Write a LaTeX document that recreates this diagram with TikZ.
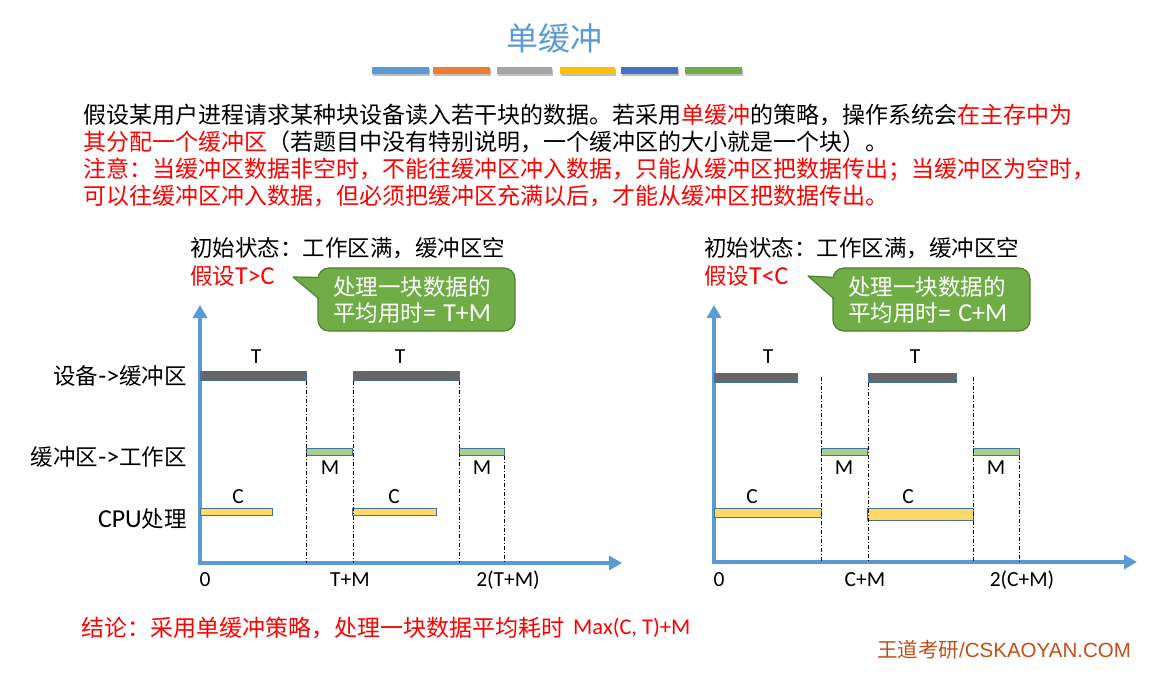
\documentclass[tikz,border=0pt]{standalone}
\usepackage{fontspec}
\setmainfont{Carlito}
\newfontfamily\cjk{Noto Sans CJK SC}
\newfontfamily\ars{Liberation Sans}
\newfontfamily\enb{Carlito}[Scale=1.15]
\usetikzlibrary{arrows.meta}
\definecolor{tblue}{HTML}{5B9BD5}
\definecolor{c1}{HTML}{5B9BD5}
\definecolor{c2}{HTML}{ED7D31}
\definecolor{c3}{HTML}{A5A5A5}
\definecolor{c4}{HTML}{FFC000}
\definecolor{c5}{HTML}{4472C4}
\definecolor{c6}{HTML}{70AD47}
\definecolor{edge}{HTML}{41719C}
\definecolor{tgray}{HTML}{666666}
\definecolor{mgreen}{HTML}{A9D18E}
\definecolor{cyellow}{HTML}{FFD966}
\definecolor{cbfill}{HTML}{70AD47}
\definecolor{cbedge}{HTML}{507E32}
\definecolor{foot}{HTML}{C0501A}
\definecolor{myred}{HTML}{FF0000}
\newcommand{\en}[1]{{\enb #1}}
\tikzset{
  para/.style={font=\cjk\fontsize{23}{27}\selectfont, inner sep=0, anchor=west},
  lbl/.style={font=\cjk\fontsize{22.5}{26}\selectfont, inner sep=0},
  num/.style={font=\rmfamily\fontsize{21.5}{25}\selectfont, inner sep=0},
  bar/.style={draw=edge, line width=0.9, inner sep=0, anchor=north west},
  tbar/.style={bar, fill=tgray},
  mbar/.style={bar, fill=mgreen},
  cbar/.style={bar, fill=cyellow},
  guide/.style={line width=0.9, dash pattern=on 4 off 2 on 1 off 2},
  axis/.style={tblue, line width=4.5, line join=miter,
     {Triangle[width=14,length=13]}-{Triangle[width=14,length=13]}},
  cbox/.style={draw=cbedge, fill=cbfill, line width=1.2, rounded corners=11,
     minimum width=197, minimum height=63, text width=167, inner xsep=15, inner ysep=0,
     align=left, text=white, font=\cjk\fontsize{22.5}{26}\selectfont},
  colbar/.style={minimum width=#1, minimum height=7, inner sep=0, anchor=north west},
}
\begin{document}
\begin{tikzpicture}[x=1pt,y=-1pt]
\useasboundingbox (0,0) rectangle (1167,676);
\fill[white] (0,0) rectangle (1167,676);
% title
\node[font=\cjk\fontsize{32}{36}\selectfont, text=tblue, inner sep=0] (title) at (554,38) {单缓冲};
\foreach \a/\b/\c [count=\i] in {372/429/c1,433/490/c2,497/552/c3,560/615/c4,621/678/c5,685/742/c6}{
  \fill[black!25] (\a+1,69) rectangle (\b+1,76);
  \node[colbar=\b-\a, fill=\c] (cb\i) at (\a,67) {};
}
% paragraph
\node[para] (p1) at (83,115) {假设某用户进程请求某种块设备读入若干块的数据。若采用\textcolor{myred}{单缓冲}的策略，操作系统会\textcolor{myred}{在主存中为}};
\node[para] (p2) at (83,142) {\textcolor{myred}{其分配一个缓冲区}（若题目中没有特别说明，一个缓冲区的大小就是一个块）。};
\node[para, text=myred] (p3) at (83,170) {注意：当缓冲区数据非空时，不能往缓冲区冲入数据，只能从缓冲区把数据传出；当缓冲区为空时，};
\node[para, text=myred] (p4) at (83,196) {可以往缓冲区冲入数据，但必须把缓冲区充满以后，才能从缓冲区把数据传出。};

% ================= left chart
\node[lbl, anchor=west] (s1) at (190,248) {初始状态：工作区满，缓冲区空};
\node[lbl, anchor=west, text=myred] (a1) at (190,276) {假设\en{T>C}};
\node[cbox] (cbx1) at (416.5,299.5) {处理一块数据的\\平均用时\en{= T+M}};
\fill[cbfill] (293,277) -- (320,277) -- (320,299) -- cycle;
\draw[cbedge, line width=1.2, line join=round] (318.6,277.5) -- (293,277) -- (318.6,298.5);

\node[lbl, anchor=east] (r1) at (187,376) {设备\en{->}缓冲区};
\node[lbl, anchor=east] (r2) at (187,457) {缓冲区\en{->}工作区};
\node[lbl, anchor=east] (r3) at (187,519) {\en{CPU}处理};

\coordinate (o1) at (200,563);
\draw[axis] (200,305) -- (o1) -- (622,563);

\node[tbar, minimum width=106, minimum height=9] (lt1) at (200,371) {};
\node[tbar, minimum width=106, minimum height=9] (lt2) at (353,371) {};
\node[mbar, minimum width=46, minimum height=7] (lm1) at (306,448) {};
\node[mbar, minimum width=45, minimum height=7] (lm2) at (459,448) {};
\node[cbar, minimum width=72, minimum height=7] (lc1) at (200,508) {};
\node[cbar, minimum width=84, minimum height=7] (lc2) at (352,508) {};

\draw[guide] (lt1.south east) -- (lt1.south east |- o1);
\draw[guide] (lt2.south west) -- (lt2.south west |- o1);
\draw[guide] (lt2.south east) -- (lt2.south east |- o1);
\draw[guide] (lm2.south east) -- (lm2.south east |- o1);

\node[num] (ltl1) at (256,357) {T};
\node[num] (ltl2) at (400,357) {T};
\node[num] (lml1) at (330,468) {M};
\node[num] (lml2) at (482,468) {M};
\node[num] (lcl1) at (238,497) {C};
\node[num] (lcl2) at (394,497) {C};
\node[num] (lx0) at (205,580) {0};
\node[num] (lx1) at (350,580) {T+M};
\node[num] (lx2) at (508,580) {2(T+M)};

% ================= right chart
\node[lbl, anchor=west] (s2) at (704,248) {初始状态：工作区满，缓冲区空};
\node[lbl, anchor=west, text=myred] (a2) at (704,276) {假设\en{T<C}};
\node[cbox] (cbx2) at (931.5,299.5) {处理一块数据的\\平均用时\en{= C+M}};
\fill[cbfill] (808,276) -- (835,277) -- (835,299) -- cycle;
\draw[cbedge, line width=1.2, line join=round] (833.6,277.5) -- (808,276) -- (833.6,298.5);

\coordinate (o2) at (714,562);
\draw[axis] (714,305) -- (o2) -- (1137,562);

\node[tbar, minimum width=83, minimum height=9] (rt1) at (714,373) {};
\node[tbar, minimum width=88, minimum height=9] (rt2) at (868,373) {};
\node[mbar, minimum width=46, minimum height=7] (rm1) at (821,448) {};
\node[mbar, minimum width=46, minimum height=7] (rm2) at (973,448) {};
\node[cbar, minimum width=107, minimum height=9] (rc1) at (714,508) {};
\node[cbar, minimum width=106, minimum height=12] (rc2) at (867,508) {};

\coordinate (g1) at (821,377);
\coordinate (g3) at (973,377);
\draw[guide] (g1) -- (g1 |- o2);
\draw[guide] (rt2.south west) -- (rt2.south west |- o2);
\draw[guide] (g3) -- (g3 |- o2);
\draw[guide] (rm2.south east) -- (rm2.south east |- o2);

\node[num] (rtl1) at (768,357) {T};
\node[num] (rtl2) at (915,357) {T};
\node[num] (rml1) at (844,468) {M};
\node[num] (rml2) at (996,468) {M};
\node[num] (rcl1) at (752,497) {C};
\node[num] (rcl2) at (908,497) {C};
\node[num] (rx0) at (719,580) {0};
\node[num] (rx1) at (865,580) {C+M};
\node[num] (rx2) at (1022,580) {2(C+M)};

% conclusion
\node[anchor=west, text=myred, inner sep=0, font=\cjk\fontsize{23}{27}\selectfont] (con) at (81,628) {结论：采用单缓冲策略，处理一块数据平均耗时};
\node[anchor=west, text=myred, inner sep=0, font=\rmfamily\fontsize{22.5}{26}\selectfont] (conm) at (573,628) {Max(C, T)+M};
% footer
\node[inner sep=0, anchor=west, text=foot, font=\cjk\fontsize{20.5}{24}\selectfont] (ft) at (877,650) {王道考研\ars{/CSKAOYAN.COM}};
\end{tikzpicture}
\end{document}
